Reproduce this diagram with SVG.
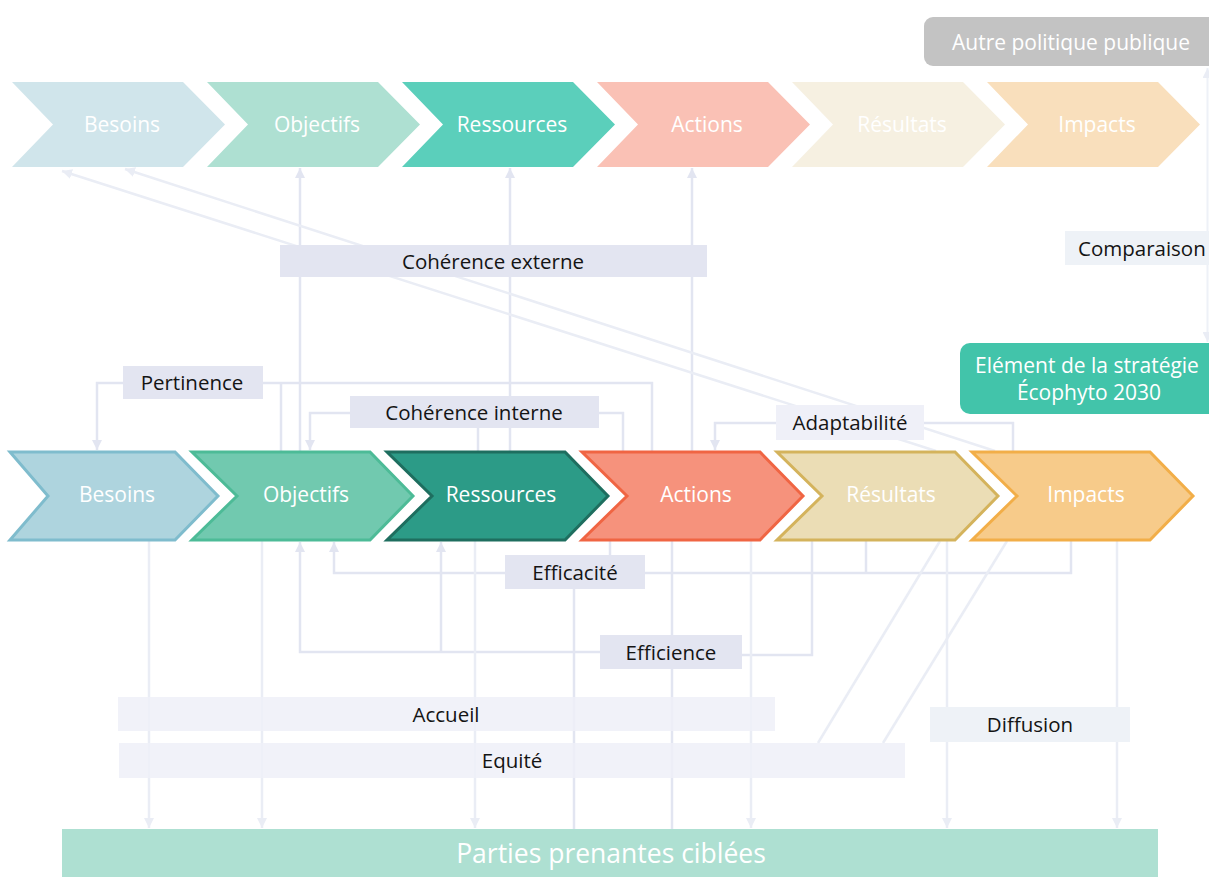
<svg xmlns="http://www.w3.org/2000/svg" width="1209" height="878" viewBox="0 0 1209 878">
<defs>
<style>
text{font-family:"Open Sans","Noto Sans","DejaVu Sans",sans-serif;dominant-baseline:central}
.ct{fill:#fff;font-size:21px;text-anchor:middle}
.lt{fill:#141414;font-size:20.5px;text-anchor:middle}
.c{fill:none;stroke:#E2E5F1;stroke-width:2.5}
.cl{fill:none;stroke:#EAEDF5;stroke-width:2.5}
.lab{fill:#E3E5F1}
.lab2{fill:#EFF0F8}
.lab3{fill:#EEF2F7}
.m{stroke-width:3;stroke-linejoin:miter}
</style>
<marker id="ah" viewBox="0 0 10 10" refX="10" refY="5" markerWidth="10" markerHeight="10" markerUnits="userSpaceOnUse" orient="auto-start-reverse">
<path d="M0,0 L10,5 L0,10 z" fill="#E2E5F1"/>
</marker>
<marker id="ahl" viewBox="0 0 10 10" refX="10" refY="5" markerWidth="10" markerHeight="10" markerUnits="userSpaceOnUse" orient="auto-start-reverse">
<path d="M0,0 L10,5 L0,10 z" fill="#EAEDF5"/>
</marker>
</defs>
<rect width="1209" height="878" fill="#fff"/>

<g id="connectors">
<path class="c" d="M300,451 V168" marker-end="url(#ah)"/>
<path class="c" d="M510,451 V168" marker-end="url(#ah)"/>
<path class="c" d="M692,451 V168" marker-end="url(#ah)"/>
<path class="cl" d="M936,451 L62,171" marker-end="url(#ahl)"/>
<path class="cl" d="M995,451 L125,169" marker-end="url(#ahl)"/>
<path class="c" d="M123,383 H97 V450" marker-end="url(#ah)"/>
<path class="c" d="M263,383 H652 V451"/>
<path class="c" d="M281,383 V451"/>
<path class="c" d="M350,413 H310 V450" marker-end="url(#ah)"/>
<path class="c" d="M478,428 V451"/>
<path class="c" d="M599,413 H623 V451"/>
<path class="c" d="M776,423 H715 V450" marker-end="url(#ah)"/>
<path class="c" d="M924,423 H1013 V452"/>
<path class="c" d="M505,573 H334 V542" marker-end="url(#ah)"/>
<path class="c" d="M645,573 H1071 V540"/>
<path class="c" d="M866,573 V540"/>
<path class="c" d="M610,555 V540"/>
<path class="c" d="M574,589 V829"/>
<path class="c" d="M600,652 H300 V542" marker-end="url(#ah)"/>
<path class="c" d="M441,652 V542" marker-end="url(#ah)"/>
<path class="c" d="M742,655 H812 V540"/>
<path class="c" d="M672,541 V829"/>
<path class="cl" d="M149,541 V828" marker-end="url(#ahl)"/>
<path class="cl" d="M262,541 V828" marker-end="url(#ahl)"/>
<path class="cl" d="M475,541 V828" marker-end="url(#ahl)"/>
<path class="cl" d="M751,541 V828" marker-end="url(#ahl)"/>
<path class="cl" d="M947,541 V828" marker-end="url(#ahl)"/>
<path class="cl" d="M1117,541 V828" marker-end="url(#ahl)"/>
<path class="cl" d="M940,541 L818,743"/>
<path class="cl" d="M1007,541 L883,743"/>
<path d="M1207.5,68 V342" fill="none" stroke="#EEF1F7" stroke-width="2" marker-start="url(#ahl)" marker-end="url(#ahl)"/>
</g>

<g id="top-besoins"><polygon points="12,82 183,82 225,124.5 183,167 12,167 53,124.5" fill="#D0E5EB"/><text class="ct" x="122" y="124">Besoins</text></g>
<g id="top-objectifs"><polygon points="207,82 378,82 420,124.5 378,167 207,167 248,124.5" fill="#AEE0D2"/><text class="ct" x="317" y="124">Objectifs</text></g>
<g id="top-ressources"><polygon points="402,82 573,82 615,124.5 573,167 402,167 443,124.5" fill="#5BCFBB"/><text class="ct" x="512" y="124">Ressources</text></g>
<g id="top-actions"><polygon points="597,82 768,82 810,124.5 768,167 597,167 638,124.5" fill="#FAC1B5"/><text class="ct" x="707" y="124">Actions</text></g>
<g id="top-resultats"><polygon points="792,82 963,82 1005,124.5 963,167 792,167 833,124.5" fill="#F6F0E1"/><text class="ct" x="902" y="124">Résultats</text></g>
<g id="top-impacts"><polygon points="987,82 1158,82 1200,124.5 1158,167 987,167 1028,124.5" fill="#F9DFBC"/><text class="ct" x="1097" y="124">Impacts</text></g>

<g id="autre-politique"><rect x="924" y="17" width="300" height="49" rx="9" fill="#C3C3C3"/><text class="ct" x="1071" y="42">Autre politique publique</text></g>
<g id="comparaison"><rect class="lab3" x="1065" y="231" width="150" height="34"/><text class="lt" x="1078" y="248" style="text-anchor:start">Comparaison</text></g>
<g id="element-ecophyto"><rect x="960" y="343" width="270" height="71" rx="10" fill="#42C4AA"/><text class="ct" x="1087" y="365">Elément de la stratégie</text><text class="ct" x="1089" y="392">Écophyto 2030</text></g>

<g id="coherence-externe"><rect class="lab" x="280" y="245" width="427" height="32"/><text class="lt" x="493" y="261">Cohérence externe</text></g>
<g id="pertinence"><rect class="lab" x="123" y="366" width="140" height="33"/><text class="lt" x="192" y="382">Pertinence</text></g>
<g id="coherence-interne"><rect class="lab" x="350" y="396" width="249" height="32"/><text class="lt" x="474" y="412">Cohérence interne</text></g>
<g id="adaptabilite"><rect class="lab2" x="776" y="405" width="148" height="35"/><text class="lt" x="850" y="422">Adaptabilité</text></g>

<g id="main-besoins"><polygon class="m" points="10,452 175,452 218,496 175,540 10,540 48,496" fill="#AED4DE" stroke="#7FBCCD"/><text class="ct" x="117" y="494">Besoins</text></g>
<g id="main-objectifs"><polygon class="m" points="192,452 370,452 413,496 370,540 192,540 237,496" fill="#71C9AF" stroke="#4DBB97"/><text class="ct" x="306" y="494">Objectifs</text></g>
<g id="main-ressources"><polygon class="m" points="387,452 565,452 608,496 565,540 387,540 432,496" fill="#2C9B87" stroke="#1E6E5F"/><text class="ct" x="501" y="494">Ressources</text></g>
<g id="main-actions"><polygon class="m" points="582,452 760,452 803,496 760,540 582,540 627,496" fill="#F6927C" stroke="#F06543"/><text class="ct" x="696" y="494">Actions</text></g>
<g id="main-resultats"><polygon class="m" points="777,452 955,452 998,496 955,540 777,540 822,496" fill="#EBDDB5" stroke="#D4B35C"/><text class="ct" x="891" y="494">Résultats</text></g>
<g id="main-impacts"><polygon class="m" points="972,452 1150,452 1193,496 1150,540 972,540 1017,496" fill="#F7CB8A" stroke="#F2AE48"/><text class="ct" x="1086" y="494">Impacts</text></g>

<g id="efficacite"><rect class="lab" x="505" y="555" width="140" height="34"/><text class="lt" x="575" y="572">Efficacité</text></g>
<g id="efficience"><rect class="lab" x="600" y="635" width="142" height="34"/><text class="lt" x="671" y="652">Efficience</text></g>
<g id="accueil"><rect class="lab2" x="118" y="697" width="657" height="34" fill-opacity="0.85"/><text class="lt" x="446" y="714">Accueil</text></g>
<g id="equite"><rect class="lab2" x="119" y="743" width="786" height="35" fill-opacity="0.85"/><text class="lt" x="512" y="760">Equité</text></g>
<g id="diffusion"><rect class="lab3" x="930" y="707" width="200" height="35"/><text class="lt" x="1030" y="724">Diffusion</text></g>
<g id="parties-prenantes"><rect x="62" y="829" width="1096" height="48" fill="#AEE0D2"/><text class="ct" x="611" y="853" style="font-size:26.5px">Parties prenantes ciblées</text></g>
</svg>
